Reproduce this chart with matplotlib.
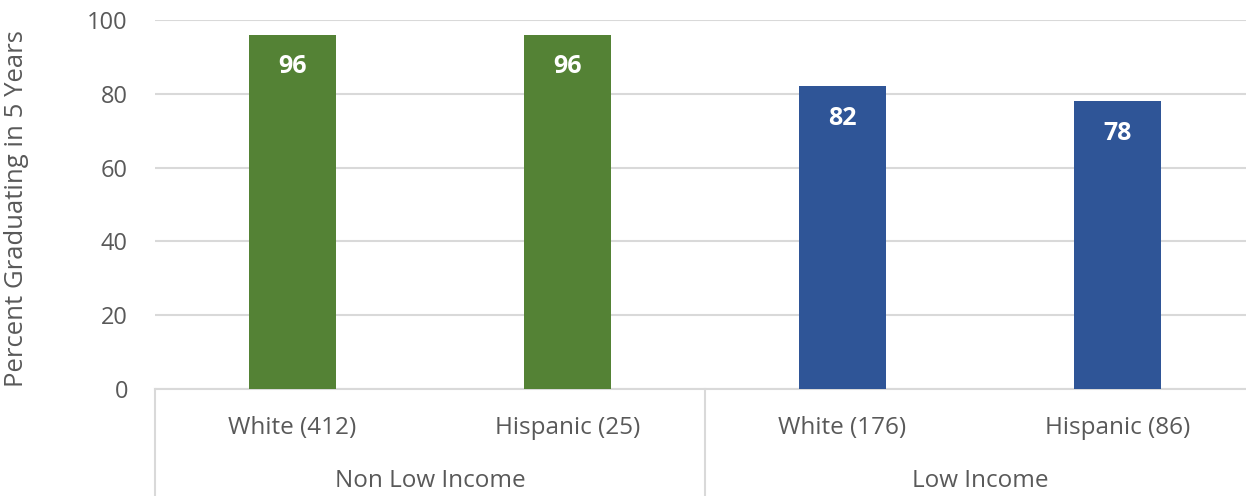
import matplotlib.pyplot as plt
import matplotlib.transforms as mtransforms

# data
categories = ["White (412)", "Hispanic (25)", "White (176)", "Hispanic (86)"]
groups = ["Non Low Income", "Low Income"]
values = [96, 96, 82, 78]
bar_colors = ["#548235", "#548235", "#2F5597", "#2F5597"]
yticks = [0, 20, 40, 60, 80, 100]

plt.rcParams["font.family"] = ["Open Sans", "DejaVu Sans"]
text_color = "#595959"

fig = plt.figure(figsize=(12.46, 4.96), dpi=100)
# plot area runs a little past the right edge of the image, as in the original
ax = fig.add_axes([155 / 1246, 107 / 496, 1100 / 1246, 369 / 496])

x = list(range(len(categories)))
bars = ax.bar(x, values, width=0.315, color=bar_colors, zorder=3)

# value labels inside bar tops
for rect, v in zip(bars, values):
    ax.annotate(f"{v}", (rect.get_x() + rect.get_width() / 2, rect.get_height()),
                xytext=(0, -23), textcoords="offset points",
                ha="center", va="center", color="white",
                fontsize=18, fontweight="bold", zorder=4)

ax.set_xlim(-0.5, len(categories) - 0.5)
ax.set_ylim(0, 100)
ax.set_yticks(yticks)
ax.tick_params(axis="y", length=0, labelsize=17, labelcolor=text_color, pad=19.5)
ax.set_xticks([])
ax.grid(axis="y", color="#D9D9D9", linewidth=1.5, zorder=0)
for s in ["top", "right", "left"]:
    ax.spines[s].set_visible(False)
ax.spines["bottom"].set_color("#D9D9D9")
ax.spines["bottom"].set_linewidth(1.5)

ax.set_ylabel("Percent Graduating in 5 Years", fontsize=18.5, color=text_color)
ax.yaxis.set_label_coords(-0.1145, 0.49)

# category labels and group labels below axis
trans = mtransforms.blended_transform_factory(ax.transData, ax.transAxes)
for xi, lab in zip(x, categories):
    ax.text(xi, -0.106, lab, transform=trans, ha="center", va="center",
            fontsize=17.5, color=text_color)

n_per_group = len(categories) // len(groups)
for gi, g in enumerate(groups):
    center = gi * n_per_group + (n_per_group - 1) / 2
    ax.text(center, -0.25, g, transform=trans, ha="center", va="center",
            fontsize=17.5, color=text_color)

# separators between groups
for b in [-0.5, 1.5, 3.5]:
    ax.plot([b, b], [0, -0.3], transform=trans, color="#D9D9D9",
            linewidth=1.5, clip_on=False)

fig.savefig("out.png", dpi=100)
